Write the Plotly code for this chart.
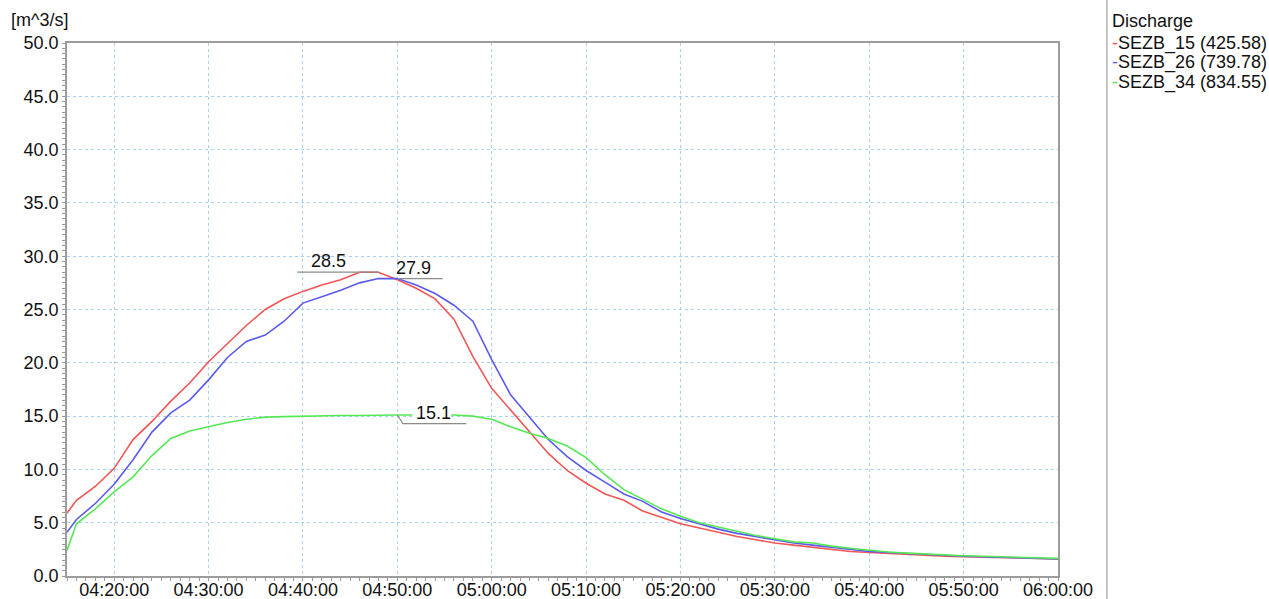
import plotly.graph_objects as go

# Sampling times (HH:MM) for the discharge series
times = [
    "04:15", "04:16", "04:18", "04:20", "04:22", "04:24", "04:26", "04:28",
    "04:30", "04:32", "04:34", "04:36", "04:38", "04:40", "04:42", "04:44",
    "04:46", "04:48", "04:50", "04:52", "04:54", "04:56", "04:58",
    "05:00", "05:02", "05:04", "05:06", "05:08", "05:10", "05:12", "05:14",
    "05:16", "05:18", "05:20", "05:22", "05:24", "05:26", "05:28", "05:30",
    "05:32", "05:34", "05:36", "05:38", "05:40", "05:42", "05:44", "05:46",
    "05:48", "05:50", "05:52", "05:54", "05:56", "05:58", "06:00",
]

sezb_15 = [
    5.9, 7.1, 8.4, 10.1, 12.8, 14.5, 16.4, 18.1,
    20.1, 21.8, 23.5, 25.0, 26.0, 26.7, 27.3, 27.8,
    28.5, 28.5, 27.8, 27.0, 26.0, 24.1, 20.6,
    17.6, 15.6, 13.5, 11.5, 9.9, 8.7, 7.7, 7.1,
    6.1, 5.5, 4.9, 4.5, 4.1, 3.7, 3.4, 3.1,
    2.9, 2.7, 2.5, 2.3, 2.2, 2.1, 2.0, 1.9,
    1.85, 1.8, 1.75, 1.7, 1.65, 1.6, 1.6,
]

sezb_26 = [
    4.1, 5.3, 6.8, 8.6, 10.9, 13.5, 15.3, 16.5,
    18.4, 20.5, 22.0, 22.6, 23.9, 25.6, 26.2, 26.8,
    27.5, 27.9, 27.9, 27.3, 26.5, 25.4, 23.9,
    20.3, 17.0, 14.9, 12.8, 11.2, 9.9, 8.8, 7.7,
    7.0, 6.0, 5.4, 4.9, 4.4, 4.0, 3.7, 3.4,
    3.1, 2.9, 2.7, 2.5, 2.3, 2.2, 2.1, 2.0,
    1.95, 1.85, 1.8, 1.75, 1.7, 1.65, 1.6,
]

sezb_34 = [
    2.4, 4.9, 6.3, 7.9, 9.3, 11.3, 12.9, 13.6,
    14.0, 14.4, 14.7, 14.9, 14.95, 15.0, 15.0, 15.05,
    15.05, 15.1, 15.1, 15.1, 15.1, 15.1, 15.0,
    14.7, 14.0, 13.4, 12.9, 12.2, 11.1, 9.5, 8.1,
    7.2, 6.3, 5.6, 5.0, 4.6, 4.2, 3.8, 3.5,
    3.2, 3.1, 2.8, 2.6, 2.4, 2.25, 2.15, 2.05,
    1.95, 1.9, 1.85, 1.8, 1.75, 1.7, 1.65,
]

series_names = ["SEZB_15", "SEZB_26", "SEZB_34"]
series_totals = ["425.58", "739.78", "834.55"]
series_colors = ["#f25555", "#5a5af0", "#55e855"]

y_ticks = [0, 5, 10, 15, 20, 25, 30, 35, 40, 45, 50]

DAY = "2024-01-01"


def ts(hhmm, extra_min=0.0, sep=" "):
    h, m = hhmm.split(":")
    total = int(h) * 60 + int(m) + extra_min
    hh = int(total // 60)
    mm = int(total % 60)
    ss = int(round((total - int(total)) * 60))
    return f"{DAY}{sep}{hh:02d}:{mm:02d}:{ss:02d}"


x = [ts(t) for t in times]
all_series = [sezb_15, sezb_26, sezb_34]

FONT = "Liberation Sans, Arial, sans-serif"
TEXT = "#111111"
FS = 18

fig = go.Figure()
for name, vals, col in zip(series_names, all_series, series_colors):
    fig.add_trace(go.Scatter(
        x=x, y=vals, mode="lines", name=name,
        line=dict(color=col, width=1.6), showlegend=False,
    ))

shapes = []
annotations = []
label_col = "#8c8c8c"

# Peak labels: SEZB_15 (line to the left of the peak)
v15 = max(sezb_15)
t15 = times[len(sezb_15) - 1 - sezb_15[::-1].index(v15)]
shapes.append(dict(type="line", xref="x", yref="y", layer="above",
                   x0=ts(t15, -8.6), x1=ts(t15), y0=v15, y1=v15,
                   line=dict(color=label_col, width=1.2)))
annotations.append(dict(x=ts(t15, -5.3), y=v15, xref="x", yref="y",
                        text=f"{v15:.1f}", showarrow=False, yanchor="bottom",
                        yshift=-1, font=dict(family=FONT, size=FS, color=TEXT)))

# SEZB_26 (line to the right of the peak)
v26 = max(sezb_26)
t26 = times[len(sezb_26) - 1 - sezb_26[::-1].index(v26)]
shapes.append(dict(type="line", xref="x", yref="y", layer="above",
                   x0=ts(t26), x1=ts(t26, 4.8), y0=v26, y1=v26,
                   line=dict(color=label_col, width=1.2)))
annotations.append(dict(x=ts(t26, 1.7), y=v26, xref="x", yref="y",
                        text=f"{v26:.1f}", showarrow=False, yanchor="bottom",
                        yshift=-1, font=dict(family=FONT, size=FS, color=TEXT)))

# SEZB_34 (leader below the plateau)
v34 = max(sezb_34)
t34 = "04:50"
shapes.append(dict(type="rect", xref="x", yref="y", layer="above",
                   x0=ts(t34, 1.6), x1=ts(t34, 5.7), y0=v34 - 0.35, y1=v34 + 0.35,
                   fillcolor="white", line=dict(width=0)))
shapes.append(dict(type="path", xref="x", yref="y", layer="above",
                   path=(f"M {ts(t34, sep='_')},{v34} "
                         f"L {ts(t34, 0.6, sep='_')},{v34 - 0.8} "
                         f"L {ts(t34, 7.3, sep='_')},{v34 - 0.8}"),
                   line=dict(color=label_col, width=1.2)))
annotations.append(dict(x=ts(t34, 3.8), y=v34 + 0.2, xref="x", yref="y",
                        text=f"{v34:.1f}", showarrow=False, yanchor="middle",
                        font=dict(family=FONT, size=FS, color=TEXT)))

# Unit label above the value axis
annotations.append(dict(x=-0.0585, y=1.043, xref="paper", yref="paper",
                        text="[m^3/s]", showarrow=False, xanchor="left",
                        yanchor="middle", font=dict(family=FONT, size=FS, color=TEXT)))

# Legend panel on the right
shapes.append(dict(type="line", xref="paper", yref="paper", layer="above",
                   x0=1.0494, x1=1.0494, y0=-0.05, y1=1.09,
                   line=dict(color="#b4b4b4", width=1.5)))
annotations.append(dict(x=1.0525, y=1.0413, xref="paper", yref="paper",
                        text="Discharge", showarrow=False, xanchor="left",
                        yanchor="middle", font=dict(family=FONT, size=FS, color=TEXT)))
for i, (name, tot, col) in enumerate(zip(series_names, series_totals, series_colors)):
    annotations.append(dict(
        x=1.0525, y=1.0 - i * 0.0375, xref="paper", yref="paper",
        text=f"<span style='color:{col}'>-</span>{name} ({tot})",
        showarrow=False, xanchor="left", yanchor="middle",
        font=dict(family=FONT, size=FS, color=TEXT)))

grid_col = "#a9cff2"
axis_col = "#9c9c9c"

fig.update_layout(
    width=1269, height=599,
    margin=dict(l=67, r=211, t=43, b=23),
    paper_bgcolor="white", plot_bgcolor="white",
    font=dict(family=FONT, size=FS, color=TEXT),
    shapes=shapes, annotations=annotations,
    xaxis=dict(
        type="date", range=[ts("04:15"), ts("06:00")],
        tickformat="%H:%M:%S", dtick=600000, tick0=ts("04:00"),
        showgrid=True, gridcolor=grid_col, griddash="dot", gridwidth=1,
        showline=True, linecolor=axis_col, linewidth=1.5, mirror=True,
        ticks="outside", ticklen=3, tickcolor=axis_col,
        ticklabelstandoff=-6,
        minor=dict(dtick=60000, ticks="outside", ticklen=3, tickcolor=axis_col,
                   showgrid=False),
        tickfont=dict(family=FONT, size=FS, color=TEXT),
        zeroline=False, automargin=False,
    ),
    yaxis=dict(
        range=[0, 50], tickvals=y_ticks, tickformat=".1f",
        showgrid=True, gridcolor=grid_col, griddash="dot", gridwidth=1,
        showline=True, linecolor=axis_col, linewidth=1.5, mirror=True,
        ticks="outside", ticklen=3, tickcolor=axis_col,
        minor=dict(dtick=0.5, ticks="outside", ticklen=3, tickcolor=axis_col,
                   showgrid=False),
        tickfont=dict(family=FONT, size=FS, color=TEXT),
        zeroline=False, automargin=False,
    ),
)

fig.write_html("out.html")
